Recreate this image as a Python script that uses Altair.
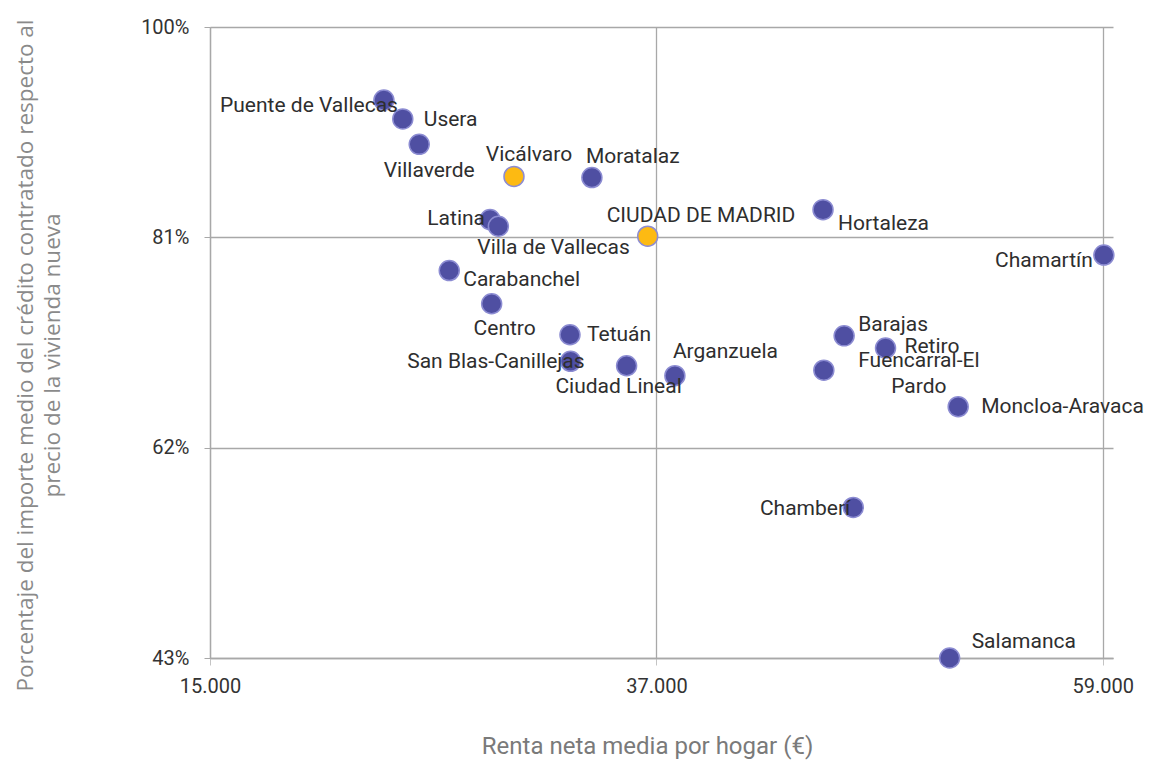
import altair as alt
import pandas as pd

# ---- data ----
distritos = [
    "Puente de Vallecas", "Usera", "Villaverde", "Vicálvaro", "Moratalaz",
    "Latina", "Villa de Vallecas", "CIUDAD DE MADRID", "Hortaleza", "Chamartín",
    "Carabanchel", "Centro", "Tetuán", "San Blas-Canillejas", "Ciudad Lineal",
    "Arganzuela", "Barajas", "Retiro", "Fuencarral-El Pardo", "Moncloa-Aravaca",
    "Chamberí", "Salamanca",
]
renta = [
    23570, 24500, 25310, 29980, 33820,
    28800, 29210, 36570, 45210, 59050,
    26790, 28880, 32740, 32770, 35530,
    37910, 46250, 48290, 45250, 51870,
    46700, 51450,
]
porcentaje = [
    93.4, 91.7, 89.4, 86.5, 86.4,
    82.6, 82.0, 81.1, 83.5, 79.4,
    78.0, 75.0, 72.2, 69.8, 69.4,
    68.5, 72.1, 71.0, 69.0, 65.7,
    56.6, 43.0,
]
destacados = ["Vicálvaro", "CIUDAD DE MADRID"]
x_ticks = [15000, 37000, 59000]
y_ticks = [43, 62, 81, 100]
y_title_lines = [
    "Porcentaje del importe medio del crédito contratado respecto al",
    "precio de la vivienda nueva",
]

df = pd.DataFrame({
    "distrito": distritos,
    "renta": renta,
    "pct": porcentaje,
    "grupo": ["destacado" if d in destacados else "distrito" for d in distritos],
    "etiqueta": [d.replace("Fuencarral-El Pardo", "Fuencarral-El\nPardo") for d in distritos],
})

# ---- label placement (layout only) ----
label_layout = {
    "Puente de Vallecas": ("right", 14, 12),
    "Usera": ("left", 21, 7),
    "Villaverde": ("center", 10, 33),
    "Vicálvaro": ("center", 15, -15),
    "Moratalaz": ("left", -6, -15),
    "Latina": ("right", -5, 5),
    "Villa de Vallecas": ("left", -21, 28),
    "CIUDAD DE MADRID": ("left", -41, -14),
    "Hortaleza": ("left", 15, 20),
    "Chamartín": ("right", -11, 12),
    "Carabanchel": ("left", 14, 15),
    "Centro": ("center", 13, 31),
    "Tetuán": ("left", 17, 6),
    "San Blas-Canillejas": ("right", 14, 7),
    "Ciudad Lineal": ("center", -8, 27),
    "Arganzuela": ("left", -2, -18),
    "Barajas": ("left", 14, -5),
    "Retiro": ("left", 19, 5),
    "Fuencarral-El Pardo": ("center", 95, -3),
    "Moncloa-Aravaca": ("left", 23, 6),
    "Chamberí": ("right", -3, 8),
    "Salamanca": ("left", 22, -10),
}

GRID = "#a8a8a8"
LABEL_FONT = "Roboto"
NBSP = "\u00a0"

x_enc = alt.X(
    "renta:Q",
    scale=alt.Scale(domain=[15000, 59500], nice=False, zero=False),
    axis=alt.Axis(
        values=x_ticks,
        labelExpr="replace(format(datum.value, ','), ',', '.')",
        labelFlush=False,
        title="Renta neta media por hogar (€)",
        titleFont=LABEL_FONT, titleFontSize=24, titleFontWeight="normal",
        titleColor="#7a7a7a",
        titleX=437, titleY=95, titleBaseline="alphabetic", titleAnchor="middle",
        titleAlign="center",
        labelFont=LABEL_FONT, labelFontSize=20, labelColor="#333333",
        labelPadding=11, tickSize=7, tickColor="#c4c4c4",
        grid=True, gridColor=GRID, gridWidth=1.3,
        domainColor=GRID, domainWidth=1.3,
    ),
)
y_enc = alt.Y(
    "pct:Q",
    scale=alt.Scale(domain=[43, 100], nice=False, zero=False),
    axis=alt.Axis(
        values=y_ticks,
        labelExpr="datum.value + '%'",
        labelFlush=False,
        title=[y_title_lines[0], NBSP * 8 + y_title_lines[1]],
        titleFont="Open Sans", titleFontSize=22.5, titleFontWeight="normal",
        titleColor="#8a8a8a", titleLineHeight=27,
        titleAngle=270, titleX=-178, titleY=328, titleBaseline="alphabetic",
        titleAlign="center",
        labelFont=LABEL_FONT, labelFontSize=20, labelColor="#333333",
        labelPadding=15, tickSize=6, tickColor=GRID,
        grid=True, gridColor=GRID, gridWidth=1.3,
        domainColor=GRID, domainWidth=1.3,
    ),
)

base = alt.Chart(df)

points = base.mark_circle(size=400, opacity=1, stroke="#8c8cd2", strokeWidth=1.5).encode(
    x=x_enc,
    y=y_enc,
    color=alt.Color(
        "grupo:N",
        scale=alt.Scale(domain=["distrito", "destacado"], range=["#4f4fa2", "#fdba12"]),
        legend=None,
    ),
)

text_layers = []
for name, (align, dx, dy) in label_layout.items():
    text_layers.append(
        base.transform_filter(alt.datum.distrito == name)
        .mark_text(
            align=align, baseline="alphabetic", dx=dx, dy=dy,
            font=LABEL_FONT, fontSize=21, color="#2e2e2e",
            lineBreak="\n", lineHeight=26,
        )
        .encode(x="renta:Q", y="pct:Q", text="etiqueta:N")
    )

chart = alt.layer(points, *text_layers).properties(
    width=903,
    height=631,
    padding={"left": 202, "top": 19, "right": 31, "bottom": 103},
    autosize="none",
).configure_view(stroke=None)

chart.save("out.html", embed_options={"renderer": "svg", "actions": False})
